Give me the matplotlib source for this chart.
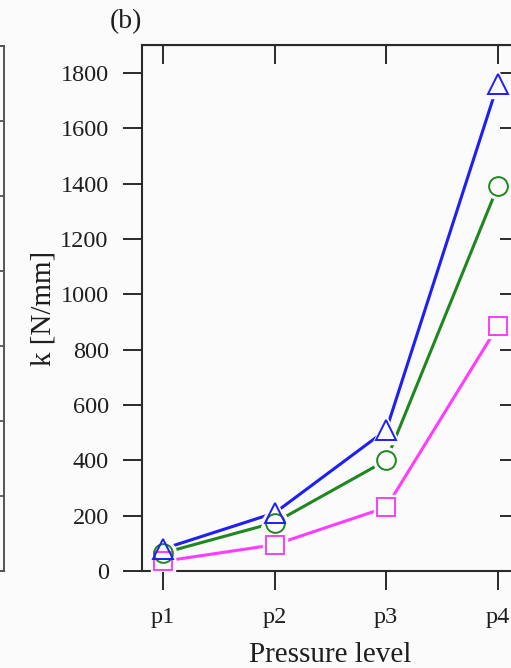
import numpy as np
import matplotlib
matplotlib.use('Agg')
import matplotlib.pyplot as plt

# data
levels = ['p1', 'p2', 'p3', 'p4']
k_blue = [80, 210, 510, 1760]      # triangles
k_green = [65, 175, 400, 1390]     # circles
k_magenta = [35, 95, 230, 885]     # squares
y_ticks = [0, 200, 400, 600, 800, 1000, 1200, 1400, 1600, 1800]

plt.rcParams['font.family'] = ['Liberation Serif', 'DejaVu Serif']

W, H = 511, 668
BG = '#fbfbfb'

fig = plt.figure(figsize=(W / 100, H / 100), dpi=100, facecolor=BG)

# pixel helpers for placing axes (image is a crop of a wider figure)
def px_rect(x0, y0, x1, y1):
    return [x0 / W, 1 - y1 / H, (x1 - x0) / W, (y1 - y0) / H]

#right edge of panel (a), mostly outside the crop
ax_a = fig.add_axes(px_rect(4 - 377, 46, 4, 571))
ax_a.set_facecolor('none')
ax_a.set_xlim(0, 1)
ax_a.set_ylim(0, 7)
ax_a.set_yticks(range(8))
ax_a.set_xticks([])
ax_a.tick_params(axis='y', left=False, right=True, labelleft=False,
                 direction='in', length=14, width=1.3, color='#555555')
for s in ax_a.spines.values():
    s.set_linewidth(1.4)
    s.set_color('#555555')

# panel (b)
ax = fig.add_axes(px_rect(142, 45.3, 519, 571))
ax.set_facecolor('none')
x = np.arange(1, len(levels) + 1)

series = [
    (k_magenta, '#ff3cff', 's', 12.5),
    (k_green, '#1f871f', 'o', 13.5),
    (k_blue, '#1f1ff5', '^', 15),
]

for vals, col, mk, ms in series:
    ax.plot(x, vals, color=col, lw=2.2, zorder=2)
# white halo so lines stop short of the markers
for vals, col, mk, ms in series:
    ax.plot(x, vals, ls='none', marker=mk, ms=ms + 5, mfc=BG, mec=BG, zorder=3)
for vals, col, mk, ms in series:
    ax.plot(x, vals, ls='none', marker=mk, ms=ms, mfc='none', mec=col,
            mew=1.4, zorder=4)

ax.set_xlim(0.81, 4.19)
ax.set_ylim(0, 1900)
ax.set_xticks(x)
ax.set_xticklabels(levels)
ax.set_yticks(y_ticks)
ax.tick_params(direction='out', length=14, width=1.4, labelsize=17.5,
               color='#2a2a2a', labelcolor='#1e1e1e')
ax.tick_params(axis='y', pad=10)
ax.tick_params(axis='x', pad=12)
for s in ax.spines.values():
    s.set_linewidth(1.5)
    s.set_color('#2a2a2a')

# mirrored inward ticks on top and right
top = ax.secondary_xaxis('top')
top.set_xticks(x)
top.set_xticklabels([])
top.tick_params(direction='in', length=14, width=1.4, color='#2a2a2a')
right = ax.secondary_yaxis('right')
right.set_yticks(y_ticks)
right.set_yticklabels([])
right.tick_params(direction='in', length=14, width=1.4, color='#2a2a2a')

ax.set_xlabel('Pressure level', fontsize=21, color='#1e1e1e', labelpad=10)
ax.set_ylabel('k [N/mm]', fontsize=21, color='#1e1e1e', labelpad=3)

fig.text(126 / W, 1 - 22 / H, '(b)', fontsize=20, ha='center', va='center',
         color='#1e1e1e')

fig.savefig('out.png', dpi=100, facecolor=BG)
